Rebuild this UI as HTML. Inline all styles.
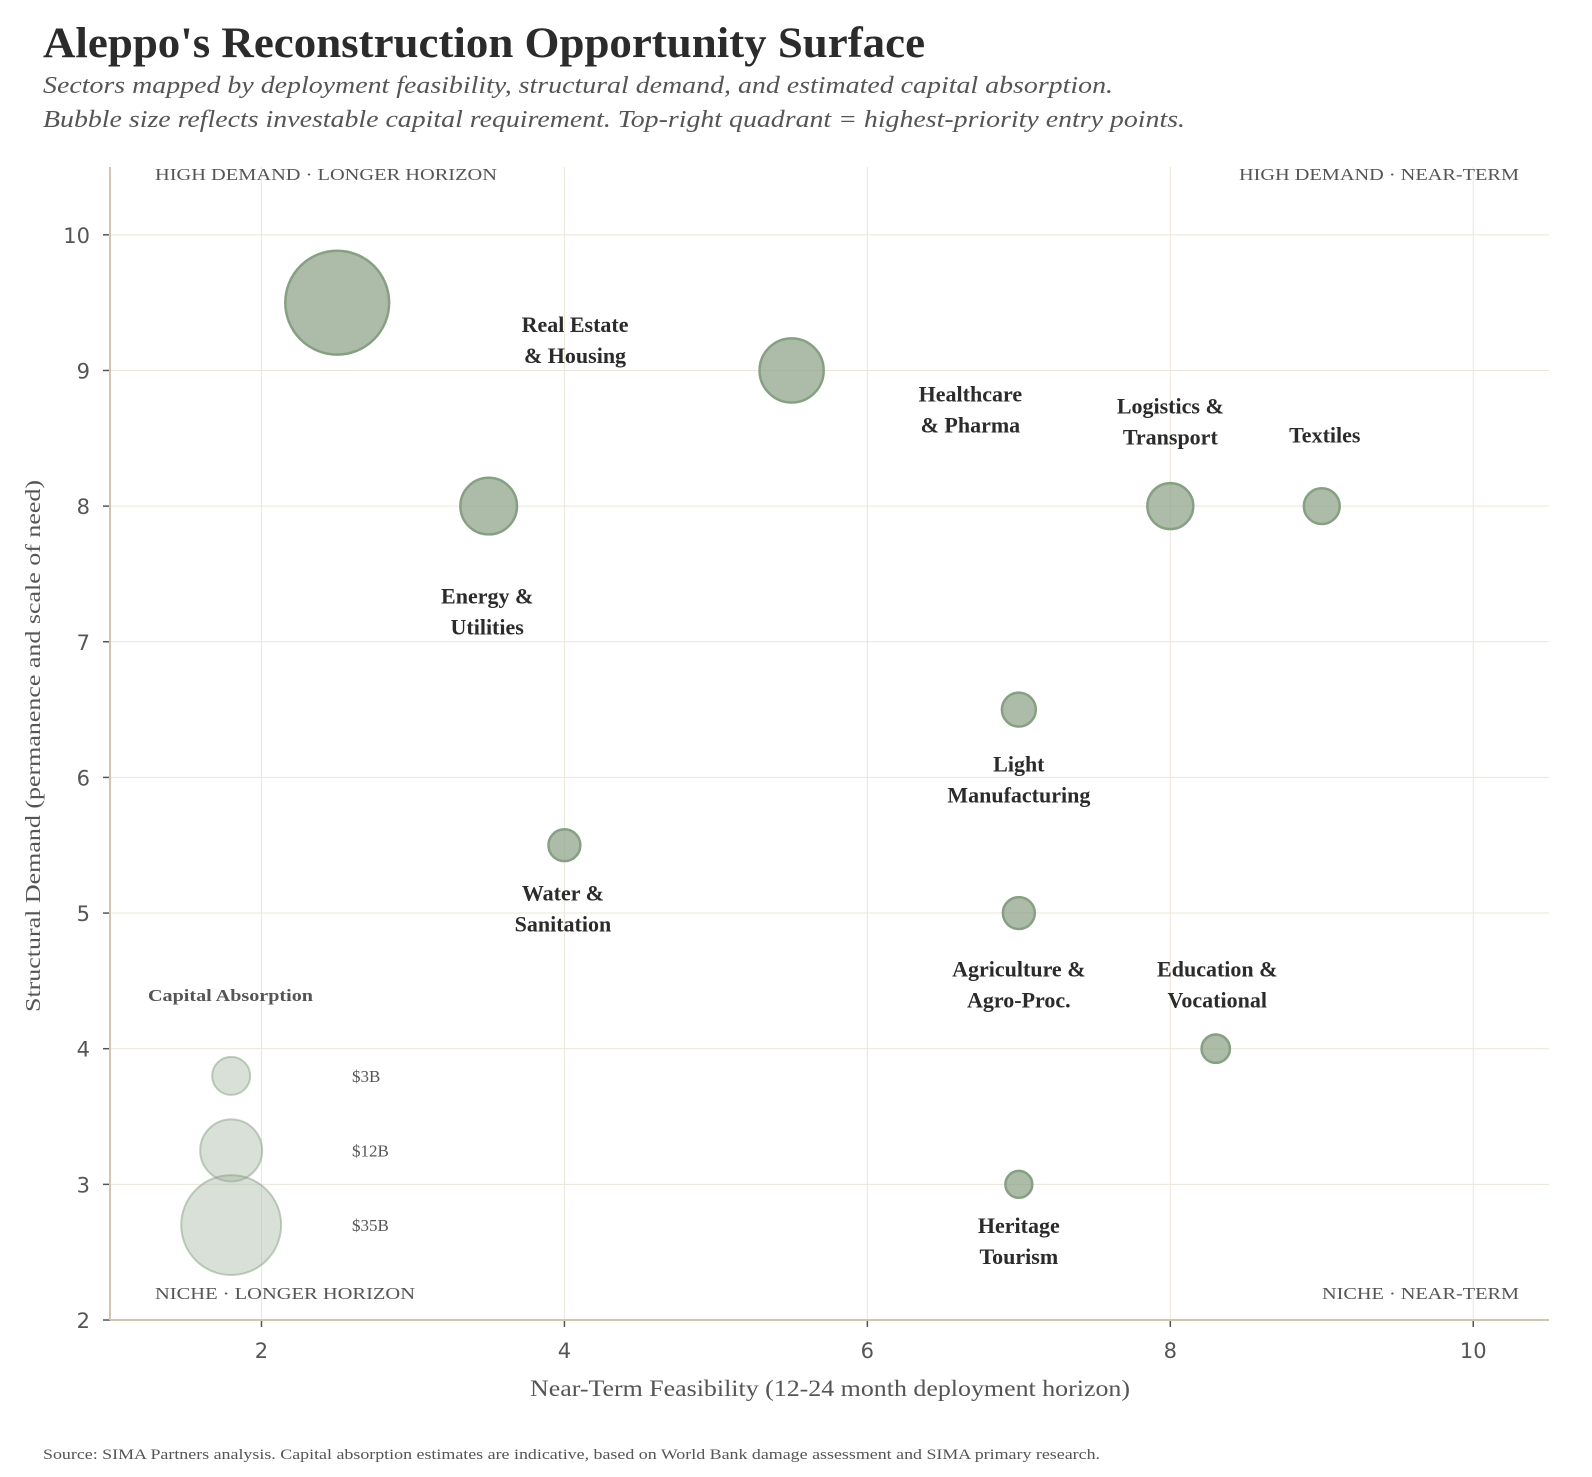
<!DOCTYPE html>
<html><head><meta charset="utf-8">
<style>
html,body{margin:0;padding:0;background:#fff;}
svg{display:block;}
.serif{font-family:"Liberation Serif",serif;}
.sans{font-family:"DejaVu Sans","Liberation Sans",sans-serif;}
</style></head>
<body>
<svg id="chart" width="1592" height="1477" viewBox="0 0 1592 1477" xmlns="http://www.w3.org/2000/svg">
<text class="serif" x="43" y="57" font-size="43" font-weight="bold" fill="#2b2b2b" textLength="882" lengthAdjust="spacingAndGlyphs">Aleppo's Reconstruction Opportunity Surface</text>
<text class="serif" x="43" y="93" font-size="24" font-style="italic" fill="#555" textLength="1070" lengthAdjust="spacingAndGlyphs">Sectors mapped by deployment feasibility, structural demand, and estimated capital absorption.</text>
<text class="serif" x="43" y="127" font-size="24" font-style="italic" fill="#555" textLength="1142" lengthAdjust="spacingAndGlyphs">Bubble size reflects investable capital requirement. Top-right quadrant = highest-priority entry points.</text>
<g id="grid"></g>
<g id="axes"></g>
<g id="legend"></g>
<g id="bubbles"></g>
<g id="labels"></g>
<text class="serif" x="155" y="180" font-size="17" fill="#555" textLength="342" lengthAdjust="spacingAndGlyphs">HIGH DEMAND · LONGER HORIZON</text>
<text class="serif" x="1239" y="180" font-size="17" fill="#555" textLength="280" lengthAdjust="spacingAndGlyphs">HIGH DEMAND · NEAR-TERM</text>
<text class="serif" x="155" y="1299" font-size="17" fill="#555" textLength="260" lengthAdjust="spacingAndGlyphs">NICHE · LONGER HORIZON</text>
<text class="serif" x="1322" y="1299" font-size="17" fill="#555" textLength="197" lengthAdjust="spacingAndGlyphs">NICHE · NEAR-TERM</text>
<text class="serif" x="530" y="1396" font-size="23" fill="#555" textLength="600" lengthAdjust="spacingAndGlyphs">Near-Term Feasibility (12-24 month deployment horizon)</text>
<text class="serif" transform="translate(40,1012) rotate(-90)" font-size="21" fill="#555" textLength="532" lengthAdjust="spacingAndGlyphs">Structural Demand (permanence and scale of need)</text>
<text class="serif" x="43" y="1459" font-size="15" fill="#555" textLength="1057" lengthAdjust="spacingAndGlyphs">Source: SIMA Partners analysis. Capital absorption estimates are indicative, based on World Bank damage assessment and SIMA primary research.</text>
</svg>
<script>
const sectors = ["Real Estate & Housing","Healthcare & Pharma","Energy & Utilities","Logistics & Transport","Textiles","Light Manufacturing","Water & Sanitation","Agriculture & Agro-Proc.","Education & Vocational","Heritage Tourism"];
const feasibility = [2.5,5.5,3.5,8,9,7,4,7,8.3,7];
const demand = [9.5,9,8,8,8,6.5,5.5,5,4,3];
const capital = [38,13,9.6,5.5,2.4,1.9,1.4,1.4,0.6,0.3];
const labelLines = [["Real Estate","& Housing"],["Healthcare","& Pharma"],["Energy &","Utilities"],["Logistics &","Transport"],["Textiles"],["Light","Manufacturing"],["Water &","Sanitation"],["Agriculture &","Agro-Proc."],["Education &","Vocational"],["Heritage","Tourism"]];
const labelX = [4.07,6.68,3.49,8.0,9.02,7.0,3.99,7.0,8.31,7.0];
const labelY = [9.22,8.71,7.22,8.62,8.52,5.98,5.03,4.47,4.47,2.58];
const xTicks = [2,4,6,8,10];
const yTicks = [2,3,4,5,6,7,8,9,10];
const legendValues = [3,12,35];
const legendLabels = ["$3B","$12B","$35B"];
const legendY = [3.8,3.25,2.7];
const legendX = 1.8;

const L=110,R=1549,T=167,B=1320,X0=1,X1=10.5,Y0=2,Y1=10.5;
const sx=v=>L+(v-X0)/(X1-X0)*(R-L);
const sy=v=>B-(v-Y0)/(Y1-Y0)*(B-T);
const sr=v=>Math.sqrt(161+66.7*v);
const NS="http://www.w3.org/2000/svg";
function mk(tag,attrs,parent){const e=document.createElementNS(NS,tag);for(const k in attrs)e.setAttribute(k,attrs[k]);parent.appendChild(e);return e;}
const grid=document.getElementById('grid'),axes=document.getElementById('axes');
xTicks.forEach(t=>{
  const gl=mk('line',{x1:sx(t),x2:sx(t),y1:T,y2:B,stroke:'#ece6da','stroke-width':1},grid);
  
  
  const tk=mk('line',{x1:sx(t),x2:sx(t),y1:B,y2:B+7,stroke:'#555','stroke-width':1.5},axes);
  
  
  const tl=mk('text',{x:sx(t),y:B+38,'font-size':21,fill:'#555','text-anchor':'middle',class:'sans'},axes);
  tl.textContent=t;
  
  
});
yTicks.forEach(t=>{
  const gl=mk('line',{x1:L,x2:R,y1:sy(t),y2:sy(t),stroke:'#ece6da','stroke-width':1},grid);
  
  
  const tk=mk('line',{x1:L-7,x2:L,y1:sy(t),y2:sy(t),stroke:'#555','stroke-width':1.5},axes);
  
  
  const tl=mk('text',{x:L-20,y:sy(t)+8,'font-size':21,fill:'#555','text-anchor':'end',class:'sans'},axes);
  tl.textContent=t;
  
  
});
const sp1=mk('line',{x1:L,x2:L,y1:T,y2:B,stroke:'#d4c5b0','stroke-width':2},axes);


const sp2=mk('line',{x1:L,x2:R,y1:B,y2:B,stroke:'#d4c5b0','stroke-width':2},axes);



const lg=document.getElementById('legend');
const lt=mk('text',{x:148,y:1001,'font-size':17,'font-weight':'bold',fill:'#555',class:'serif',textLength:165,lengthAdjust:'spacingAndGlyphs'},lg);
lt.textContent='Capital Absorption';


legendValues.forEach((v,i)=>{
  const c=mk('circle',{cx:sx(legendX),cy:sy(legendY[i]),r:sr(v),fill:'rgba(160,178,158,0.4)',stroke:'rgba(135,160,131,0.5)','stroke-width':2},lg);
  
  
  const t=mk('text',{x:352,y:sy(legendY[i])+6,'font-size':17,fill:'#555',class:'serif'},lg);
  t.textContent=legendLabels[i];
  
  
});
const bg=document.getElementById('bubbles'),lb=document.getElementById('labels');
sectors.forEach((s,i)=>{
  const c=mk('circle',{cx:sx(feasibility[i]),cy:sy(demand[i]),r:sr(capital[i]),fill:'rgba(140,162,135,0.72)',stroke:'#87a083','stroke-width':2.5},bg);
  
  
  const n=labelLines[i].length;
  labelLines[i].forEach((ln,j)=>{
    const t=mk('text',{x:sx(labelX[i]),y:sy(labelY[i])+(j-(n-1)/2)*31+7,'font-size':22,'font-weight':'bold',fill:'#2b2b2b','text-anchor':'middle',class:'serif'},lb);
    t.textContent=ln;
    
    
  });
});
</script>
</body></html>
